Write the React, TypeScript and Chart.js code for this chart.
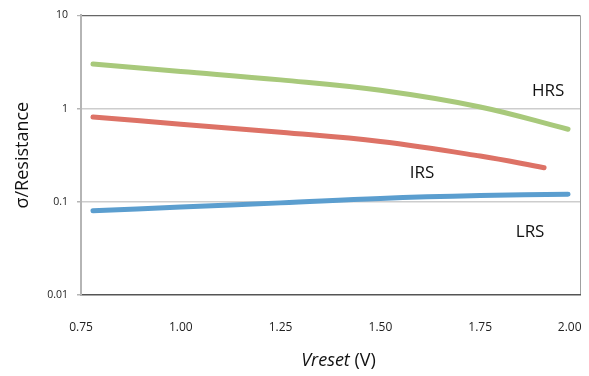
import { useEffect, useRef } from "react";
import { Chart, registerables } from "chart.js";
Chart.register(...registerables);

const hrsX = [0.78, 1.0, 1.25, 1.5, 1.75, 1.97];
const hrsY = [3.0, 2.5, 2.03, 1.57, 1.04, 0.6];
const irsX = [0.78, 1.0, 1.25, 1.5, 1.75, 1.91];
const irsY = [0.81, 0.68, 0.556, 0.443, 0.309, 0.232];
const lrsX = [0.78, 1.0, 1.25, 1.5, 1.75, 1.97];
const lrsY = [0.08, 0.0878, 0.0973, 0.1087, 0.1167, 0.1207];

const xTickValues = [0.75, 1.0, 1.25, 1.5, 1.75, 2.0];
const xTickLabels = ["0.75", "1.00", "1.25", "1.50", "1.75", "2.00"];
const yTickValues = [0.01, 0.1, 1, 10];
const yTickLabels = ["0.01", "0.1", "1", "10"];

const seriesNames = ["HRS", "IRS", "LRS"];
const nameX = [1.92, 1.604, 1.875];
const nameY = [1.55, 0.204, 0.0468];

const FONT = '"Open Sans", "DejaVu Sans", sans-serif';

const textPlugin = {
  id: "texts",
  afterDraw(chart: any) {
    const { ctx, scales, chartArea } = chart;
    const x = scales.x;
    const y = scales.y;
    ctx.save();
    ctx.fillStyle = "#111";
    ctx.textAlign = "center";
    ctx.textBaseline = "middle";
    ctx.font = `17px ${FONT}`;
    seriesNames.forEach((t, i) => {
      ctx.fillText(t, x.getPixelForValue(nameX[i]), y.getPixelForValue(nameY[i]));
    });
    const italicPart = "Vreset";
    const normalPart = " (V)";
    ctx.font = `italic 18px ${FONT}`;
    const w1 = ctx.measureText(italicPart).width;
    ctx.font = `18px ${FONT}`;
    const w2 = ctx.measureText(normalPart).width;
    const cx = (chartArea.left + chartArea.right) / 2 + 8;
    const cy = 361;
    const sx = cx - (w1 + w2) / 2;
    ctx.textAlign = "left";
    ctx.font = `italic 18px ${FONT}`;
    ctx.fillText(italicPart, sx, cy);
    ctx.font = `18px ${FONT}`;
    ctx.fillText(normalPart, sx + w1, cy);
    ctx.restore();
  },
};

function toPoints(xs: number[], ys: number[]) {
  return xs.map((v, i) => ({ x: v, y: ys[i] }));
}

export default function App() {
  const ref = useRef<HTMLCanvasElement | null>(null);
  useEffect(() => {
    if (!ref.current) return;
    const lineCommon = {
      borderWidth: 5,
      pointRadius: 0,
      tension: 0.4,
      borderCapStyle: "round" as const,
      fill: false,
    };
    const chart = new Chart(ref.current, {
      type: "line",
      data: {
        datasets: [
          { label: "HRS", data: toPoints(hrsX, hrsY), borderColor: "#A8C97B", ...lineCommon },
          { label: "IRS", data: toPoints(irsX, irsY), borderColor: "#DD7266", ...lineCommon },
          { label: "LRS", data: toPoints(lrsX, lrsY), borderColor: "#5B9ECF", ...lineCommon },
        ],
      },
      options: {
        animation: false,
        responsive: false,
        devicePixelRatio: 1,
        layout: { padding: { top: 13, right: 9, left: 0, bottom: 0 } },
        plugins: { legend: { display: false }, tooltip: { enabled: false } },
        scales: {
          x: {
            type: "linear",
            min: 0.75,
            max: 2.0,
            afterBuildTicks: (s: any) => {
              s.ticks = xTickValues.map((v) => ({ value: v }));
            },
            afterFit: (s: any) => {
              s.height = 81;
              s.paddingRight = 0;
              s.paddingLeft = 0;
            },
            ticks: {
              padding: 25,
              color: "#222",
              font: { family: FONT, size: 12 },
              maxRotation: 0,
              callback: (v: any) => {
                const i = xTickValues.indexOf(Number(v));
                if (i < 0) return "";
                // last label is nudged inward so it stays inside the canvas
                return i === xTickValues.length - 1
                  ? xTickLabels[i] + "\u2007\u2007\u2007"
                  : xTickLabels[i];
              },
            },
            grid: {
              drawTicks: false,
              color: (c: any) => (c.tick && c.tick.value === 2.0 ? "#A0A0A0" : "rgba(0,0,0,0)"),
              lineWidth: 1,
            },
            border: { color: "#555", width: 1.5 },
          },
          y: {
            type: "logarithmic",
            min: 0.01,
            max: 10,
            afterBuildTicks: (s: any) => {
              s.ticks = yTickValues.map((v) => ({ value: v }));
            },
            afterFit: (s: any) => {
              s.width = 81;
            },
            ticks: {
              padding: 9,
              color: "#222",
              font: { family: FONT, size: 10.5 },
              callback: (v: any) => {
                const i = yTickValues.indexOf(Number(v));
                return i >= 0 ? yTickLabels[i] : "";
              },
            },
            grid: {
              drawTicks: true,
              tickLength: 4,
              tickColor: "#B5B5B5",
              color: (c: any) => {
                const v = c.tick ? c.tick.value : null;
                if (v === 10) return "#666";
                if (v === 0.01) return "rgba(0,0,0,0)";
                return "#CDCDCD";
              },
              lineWidth: (c: any) => (c.tick && c.tick.value === 10 ? 1.2 : 1.5),
            },
            border: { color: "#B5B5B5", width: 2 },
            title: {
              display: true,
              text: "σ/Resistance",
              color: "#111",
              font: { family: FONT, size: 18 },
              padding: { top: 12, bottom: 0 },
            },
          },
        },
      },
      plugins: [textPlugin],
    });
    return () => chart.destroy();
  }, []);
  return (
    <div style={{ position: "fixed", left: 0, top: 0, width: 589, height: 376, background: "#fff" }}>
      <canvas ref={ref} width={589} height={376} />
    </div>
  );
}
